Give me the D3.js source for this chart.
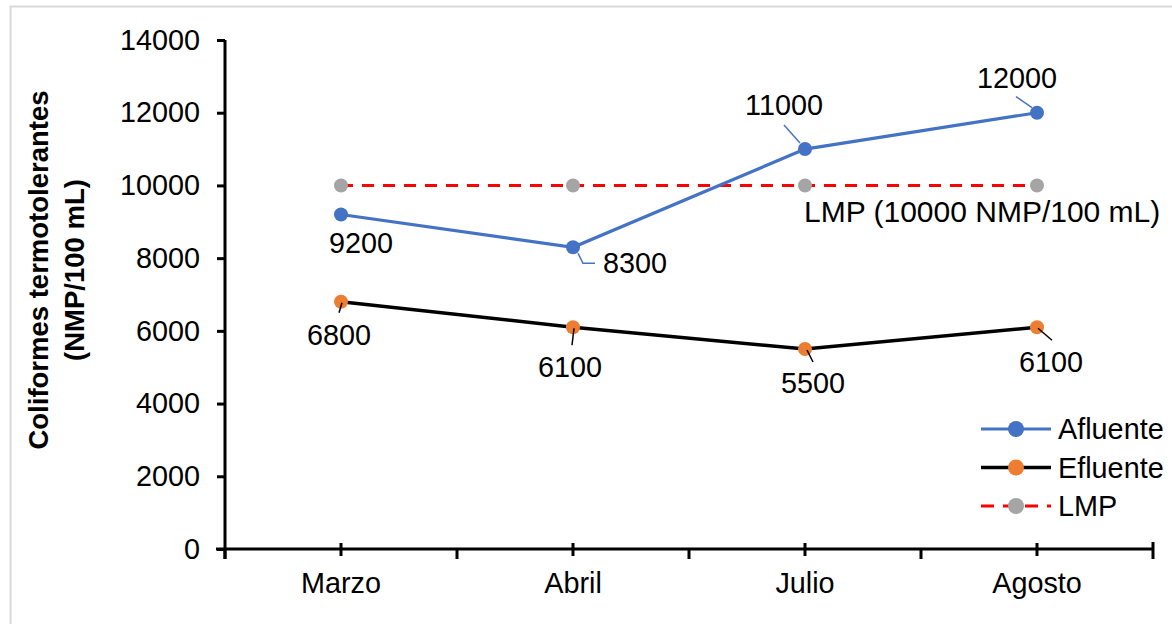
<!DOCTYPE html>
<html>
<head>
<meta charset="utf-8">
<script src="https://cdn.jsdelivr.net/npm/d3@7.9.0/dist/d3.min.js"></script>
<style>
  body { margin: 0; background: #fff; }
  svg { display: block; font-family: Arial, "Liberation Sans", sans-serif; }
</style>
</head>
<body>
<svg id="chart" width="1172" height="624"></svg>
<script>
// Data
const months = ['Marzo', 'Abril', 'Julio', 'Agosto'];
const afluente = [9200, 8300, 11000, 12000];
const efluente = [6800, 6100, 5500, 6100];
const lmp = [10000, 10000, 10000, 10000];
const yTicks = [0, 2000, 4000, 6000, 8000, 10000, 12000, 14000];

const FS = 28.8;

// label placement relative to each point (dx, dy of text; leader polyline)
const afluenteLabels = [
  { dx: 20, dy: 38, leader: null },
  { dx: 62, dy: 26, leader: [[5, 6], [10, 16], [22, 16]] },
  { dx: -21, dy: -34, leader: [[-21, -24], [-5, -6]] },
  { dx: -20, dy: -25, leader: [[-21, -16], [-5, -5]] }
];
const efluenteLabels = [
  { dx: -2, dy: 43, leader: [[-2, 11], [1, 1]] },
  { dx: -3, dy: 50, leader: [[-1, 18], [1, 1]] },
  { dx: 8, dy: 44, leader: [[2, 1], [8, 13]] },
  { dx: 14, dy: 45, leader: [[1, 1], [15, 13]] }
];

const svg = d3.select('#chart');

// light frame round the chart
svg.append('rect')
  .attr('x', 10.5).attr('y', 6.5)
  .attr('width', 1180).attr('height', 640)
  .attr('fill', 'none').attr('stroke', '#d9d9d9').attr('stroke-width', 2);

const x = d3.scalePoint().domain(months).range([225, 1153]).padding(0.5);
const y = d3.scaleLinear().domain([0, 14000]).range([549, 40]);
const step = x.step();

// y axis
const yAxis = svg.append('g').attr('transform', 'translate(225,0)')
  .call(d3.axisLeft(y).tickValues(yTicks).tickSize(8).tickPadding(17).tickFormat(d3.format('d')));
yAxis.select('.domain').attr('stroke', '#000').attr('stroke-width', 3);
yAxis.selectAll('.tick line').attr('stroke', '#000').attr('stroke-width', 3);
yAxis.selectAll('.tick text').attr('font-size', FS).attr('fill', '#000')
  .attr('font-family', 'Arial, "Liberation Sans", sans-serif');
yAxis.select('.domain').attr('d', 'M0,' + y(14000) + 'V' + (y(0) + 10));

// x axis
const xg = svg.append('g');
xg.append('line')
  .attr('x1', 216).attr('x2', 1153)
  .attr('y1', y(0)).attr('y2', y(0))
  .attr('stroke', '#000').attr('stroke-width', 3);
// boundary ticks (outside)
const bounds = months.map(m => x(m) - step / 2).concat([x(months[months.length - 1]) + step / 2]);
xg.selectAll('line.bt').data(bounds).join('line')
  .attr('class', 'bt')
  .attr('x1', d => d).attr('x2', d => d)
  .attr('y1', (d, i) => i === bounds.length - 1 ? y(0) - 7 : y(0))
  .attr('y2', y(0) + 10)
  .attr('stroke', '#000').attr('stroke-width', 3);
// category ticks (crossing)
xg.selectAll('line.ct').data(months).join('line')
  .attr('class', 'ct')
  .attr('x1', d => x(d)).attr('x2', d => x(d))
  .attr('y1', y(0) - 6).attr('y2', y(0) + 7)
  .attr('stroke', '#000').attr('stroke-width', 3);
xg.selectAll('text').data(months).join('text')
  .attr('x', d => x(d)).attr('y', 593)
  .attr('text-anchor', 'middle').attr('font-size', FS).attr('fill', '#000')
  .text(d => d);

// y axis title
const title = svg.append('text')
  .attr('transform', 'translate(0,270) rotate(-90)')
  .attr('text-anchor', 'middle').attr('font-size', 27.5).attr('font-weight', 'bold').attr('fill', '#000');
title.append('tspan').attr('x', 0).attr('y', 48).text('Coliformes termotolerantes');
title.append('tspan').attr('x', 0).attr('y', 84).text('(NMP/100 mL)');

const line = d3.line().x((d, i) => x(months[i])).y(d => y(d));

// LMP series
svg.append('path').datum(lmp)
  .attr('d', line).attr('fill', 'none')
  .attr('stroke', '#ff0000').attr('stroke-width', 3).attr('stroke-dasharray', '12,9');
svg.selectAll('circle.lmp').data(lmp).join('circle')
  .attr('class', 'lmp')
  .attr('cx', (d, i) => x(months[i])).attr('cy', d => y(d)).attr('r', 7)
  .attr('fill', '#a5a5a5');

// Afluente
svg.append('path').datum(afluente)
  .attr('d', line).attr('fill', 'none')
  .attr('stroke', '#4472c4').attr('stroke-width', 3.2);
svg.selectAll('circle.af').data(afluente).join('circle')
  .attr('class', 'af')
  .attr('cx', (d, i) => x(months[i])).attr('cy', d => y(d)).attr('r', 7)
  .attr('fill', '#4472c4');

// Efluente
svg.append('path').datum(efluente)
  .attr('d', line).attr('fill', 'none')
  .attr('stroke', '#000').attr('stroke-width', 3.5);
svg.selectAll('circle.ef').data(efluente).join('circle')
  .attr('class', 'ef')
  .attr('cx', (d, i) => x(months[i])).attr('cy', d => y(d)).attr('r', 7)
  .attr('fill', '#ed7d31');

// data labels with leader lines
function drawLabels(values, placement, leaderColor) {
  const g = svg.append('g');
  values.forEach((v, i) => {
    const px = x(months[i]), py = y(v);
    const p = placement[i];
    if (p.leader) {
      g.append('polyline')
        .attr('points', p.leader.map(([a, b]) => (px + a) + ',' + (py + b)).join(' '))
        .attr('fill', 'none').attr('stroke', leaderColor).attr('stroke-width', 1.5);
    }
    g.append('text')
      .attr('x', px + p.dx).attr('y', py + p.dy)
      .attr('text-anchor', 'middle').attr('font-size', FS).attr('fill', '#000')
      .text(v);
  });
}
drawLabels(afluente, afluenteLabels, '#4472c4');
drawLabels(efluente, efluenteLabels, '#000');

// LMP label
svg.append('text')
  .attr('x', x('Julio') - 1).attr('y', y(lmp[2]) + 37)
  .attr('font-size', 30).attr('fill', '#000')
  .text('LMP (10000 NMP/100 mL)');

// legend
const legendItems = [
  { name: 'Afluente', stroke: '#4472c4', fill: '#4472c4', dash: null, width: 3.2 },
  { name: 'Efluente', stroke: '#000', fill: '#ed7d31', dash: null, width: 3.5 },
  { name: 'LMP', stroke: '#ff0000', fill: '#a5a5a5', dash: '13,9', width: 3 }
];
const lg = svg.append('g').attr('transform', 'translate(981,429)');
legendItems.forEach((d, i) => {
  const row = lg.append('g').attr('transform', 'translate(0,' + i * 38.5 + ')');
  row.append('line')
    .attr('x1', 0).attr('x2', 70).attr('y1', 0).attr('y2', 0)
    .attr('stroke', d.stroke).attr('stroke-width', d.width)
    .attr('stroke-dasharray', d.dash);
  row.append('circle').attr('cx', 35).attr('cy', 0).attr('r', 8).attr('fill', d.fill);
  row.append('text').attr('x', 77).attr('y', 10)
    .attr('font-size', FS).attr('fill', '#000').text(d.name);
});
</script>
</body>
</html>
